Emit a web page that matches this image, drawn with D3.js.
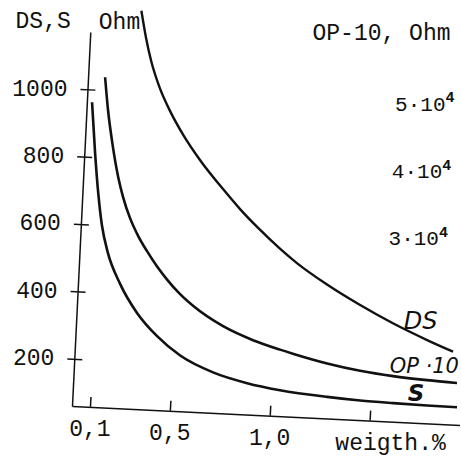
<!DOCTYPE html>
<html>
<head>
<meta charset="utf-8">
<script src="https://cdn.jsdelivr.net/npm/d3@7"></script>
<style>
  html, body { margin: 0; padding: 0; background: #fff; }
  svg { display: block; }
</style>
</head>
<body>
<script>
// ---------------- data ----------------
// weight % (x) vs resistance
const dsData = [
  [0.26,1240],[0.29,1160],[0.32,1095],[0.37,1015],[0.43,945],[0.50,878],
  [0.59,806],[0.73,712],[0.80,668],[0.90,612],[1.01,556],[1.10,515],
  [1.25,458],[1.42,402],[1.59,352],[1.77,306],[1.90,276]
];
const sData = [
  [0.036,962],[0.063,815],[0.09,690],[0.115,600],[0.151,520],[0.219,430],
  [0.312,345],[0.418,279],[0.538,225],[0.706,180],[0.879,153],[1.045,137],
  [1.282,124],[1.448,118],[1.613,115],[1.783,113],[1.933,112]
];
// OP-10 in Ohm (right-hand scale)
const opData = [
  [0.095,51900],[0.118,47000],[0.15,41800],[0.185,37200],[0.214,34300],
  [0.253,31300],[0.30,28600],[0.346,26500],[0.40,24300],[0.454,22400],
  [0.52,20400],[0.59,18700],[0.745,15900],[0.898,14050],[1.035,12850],
  [1.10,12350],[1.274,11150],[1.44,10300],[1.606,9750],[1.777,9400],[1.927,9200]
];
const xTicks = [0.1, 0.5, 1.0, 1.5];
const xTickLabels = ["0,1", "0,5", "1,0", ""];
const yTicks = [200, 400, 600, 800, 1000];
const yTickLabels = ["200", "400", "600", "800", "1000"];
const rTicks = [50000, 40000, 30000];
const rTickLabels = ["5·10", "4·10", "3·10"];
const rTickExp = "4";

// ---------------- layout ----------------
const W = 461, H = 456;
const theta = 2.8;          // the scanned chart is slightly rotated
const Ox = 72, Oy = 406;    // axis origin
const mono = "'Liberation Mono', 'DejaVu Sans Mono', monospace";
const hand = "'DejaVu Sans', 'Liberation Sans', sans-serif";
const ink = "#111";
const fs = 23;

const x = d3.scaleLinear().domain([0.01, 1.95]).range([Ox, Ox + 388]);
const y = d3.scaleLinear().domain([60, 1170]).range([Oy, Oy - 374.5]);
const yR = d3.scaleLinear().domain(y.domain().map(v => v * 50)).range(y.range());

const svg = d3.select("body").append("svg")
  .attr("width", W).attr("height", H)
  .style("background", "#fff");

const g = svg.append("g").attr("transform", `rotate(${theta},${Ox},${Oy})`);
const unrot = (tx, ty) => `rotate(${-theta},${tx},${ty})`;

// y axis
const gy = g.append("g").attr("transform", `translate(${Ox},0)`)
  .call(d3.axisLeft(y).tickValues(yTicks)
    .tickFormat(d => yTickLabels[yTicks.indexOf(d)])
    .tickSizeInner(7).tickSizeOuter(0).tickPadding(13));
gy.select(".domain").attr("stroke", ink).attr("stroke-width", 1.5);
gy.selectAll(".tick line").attr("x1", 8).attr("stroke", ink).attr("stroke-width", 1.5);
gy.selectAll(".tick text")
  .attr("font-family", mono).attr("font-size", fs).attr("fill", ink)
  .attr("dy", "0.3em")
  .attr("transform", unrot(-20, 0));

// x axis
const gx = g.append("g").attr("transform", `translate(0,${Oy})`)
  .call(d3.axisBottom(x).tickValues(xTicks)
    .tickFormat(d => xTickLabels[xTicks.indexOf(d)])
    .tickSizeInner(-10).tickSizeOuter(0).tickPadding(13));
gx.select(".domain").attr("stroke", ink).attr("stroke-width", 1.6);
gx.selectAll(".tick line").attr("stroke", ink).attr("stroke-width", 1.5);
gx.selectAll(".tick text")
  .attr("font-family", mono).attr("font-size", fs).attr("fill", ink)
  .attr("transform", unrot(0, 13));

// curves
const lineL = d3.line().x(d => x(d[0])).y(d => y(d[1])).curve(d3.curveMonotoneX);
const lineR = d3.line().x(d => x(d[0])).y(d => yR(d[1])).curve(d3.curveMonotoneX);
g.append("path").attr("d", lineL(dsData)).attr("fill", "none")
  .attr("stroke", ink).attr("stroke-width", 2.4);
g.append("path").attr("d", lineR(opData)).attr("fill", "none")
  .attr("stroke", ink).attr("stroke-width", 2.6);
g.append("path").attr("d", lineL(sData)).attr("fill", "none")
  .attr("stroke", ink).attr("stroke-width", 2.6);

// right-hand OP-10 scale labels
rTicks.forEach((v, i) => {
  const tx = Ox + 308, ty = yR(v);
  const t = g.append("text").attr("x", tx).attr("y", ty).attr("dy", "0.3em")
    .attr("font-family", mono).attr("font-size", 21).attr("fill", ink)
    .attr("transform", unrot(tx, ty));
  t.append("tspan").text(rTickLabels[i]);
  t.append("tspan").attr("dy", "-0.55em").attr("font-size", 15)
    .attr("font-weight", "bold").text(rTickExp);
});

// titles
function label(txt, fx, fy, anchor, size, family, extra) {
  const t = g.append("text").attr("x", fx).attr("y", fy).attr("dy", "0.3em")
    .attr("text-anchor", anchor).attr("font-family", family)
    .attr("font-size", size).attr("fill", ink)
    .attr("transform", unrot(fx, fy)).text(txt);
  if (extra) extra(t);
  return t;
}
label("DS,S", Ox - 20, Oy - 384, "end", fs, mono);
label("Ohm", Ox + 8, Oy - 385, "start", fs, mono);
label("OP-10, Ohm", Ox + 222, Oy - 384, "start", fs, mono);
label("weigth.%", Ox + 320, Oy + 21.5, "middle", fs, mono);

// curve names (handwritten)
const italic = t => t.attr("font-style", "italic");
label("DS", Ox + 344, Oy - 101, "middle", 24, hand, italic);
label("OP ·10", Ox + 350, Oy - 56, "middle", 21, hand, italic);
label("S", Ox + 343, Oy - 29, "middle", 23, hand, t => t.attr("font-style", "italic").attr("font-weight", "bold"));
</script>
</body>
</html>
